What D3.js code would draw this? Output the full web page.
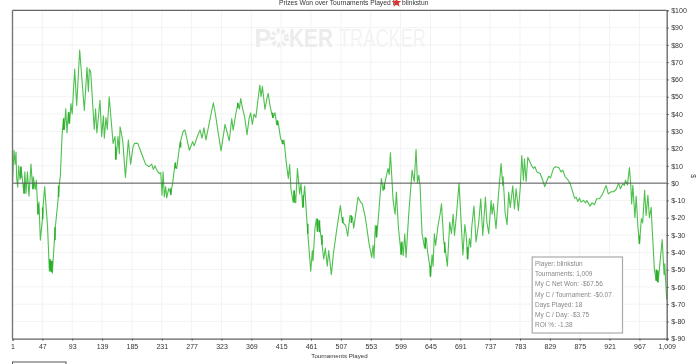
<!DOCTYPE html>
<html><head><meta charset="utf-8">
<script src="https://cdn.jsdelivr.net/npm/d3@7"></script>
<style>
html,body{margin:0;padding:0;background:#fff;overflow:hidden}
svg{display:block;filter:blur(0.3px)}
text{font-family:"Liberation Sans",Arial,sans-serif}
</style></head><body>
<svg id="c" width="700" height="364"></svg>
<script>
const tournaments=[1,3.3,5,6.4,7.4,9,10.5,12.6,14,16,18.7,20,21.8,24,26.4,29.5,32,33,36,37.7,40.3,41.8,43.9,47,48,50.6,52.6,55,57.8,58.8,60.3,62,62.4,65.5,67,71.6,73,74.7,77.3,79.3,81,83,85,87,89,91,93,96.8,99.9,104.5,109,111.7,115.8,117.9,119.4,121.5,127,129,131,134.3,135.8,138.4,141,142.5,145,147,150,153,156,159,160.5,163.6,165.6,166.7,168.7,171,175,179.5,183,186.7,188.8,194,200,206,211.4,215.5,218,220.6,224,227,229.4,231.4,233,235,237,238.6,241.7,244.7,247.8,251.4,254,259,264,266.8,273.5,278.6,281,285.8,290,293,296,299,302,306.4,310.5,313.6,318,322.3,328.5,332,335,338.8,341,345,348.5,350.6,352.6,355,358.8,362.4,365.5,368,370.6,373.2,376,382,384,386,390,393,395,397.3,400.4,402.4,405.5,408,410,414,418,419.4,423,426,428,430,433.3,435,437.4,440,443.5,445.5,448.2,451.2,455,456,460.5,463,464,467,469.3,470.8,473.4,475.4,478,480.5,483,486,488.2,490.3,492.3,495.4,500,506.2,509.3,514.4,517.5,521,524.7,526.8,533.4,537.5,540,544.7,550.4,554.5,556.6,558,560,561.7,563.8,569.4,572,579.7,581.5,583.3,586,587.4,590.5,592.5,595.6,599.7,601.3,603,605.4,607.4,611.5,616.7,618.5,620,622.8,625,627,629,632,635.7,638.8,640.3,644,645,647.5,649,651,653,656.7,659.8,662,665.5,668.5,671,674.7,677.3,680,682,685,689,695,698,700,702.5,705,707,708.6,712,715.3,719.4,722.5,725.6,729.7,731.8,734.8,738.4,740,742,746,749.7,753.8,756.4,757,760,763,765.6,768,771.8,774.4,777,780.5,783.6,785.7,788.3,789.8,792.4,795,797.5,801,804,806,809,814,818,821,824.7,827.3,830,834.5,837.6,842.7,846.3,849,852.5,856.6,860,863.3,867,869.5,872,874.6,877,880.7,884,886,891,894,897.7,901,905.4,909.5,915.7,919,923.4,927,931,935,937.7,941.3,943.8,945.5,948.5,951.6,953.7,955,956.8,960,962,964.5,967,970,972,975,977.3,980,982.4,985,986.5,990,992.7,995.3,995.8,999,1002,1005,1006,1009];
const prizes=[0,19,11,18,3,-2.3,10,2,9.5,3,-6,6.5,-6,6.5,-7.5,11,-3.3,3.7,-3.7,1.7,-18,-11,-33,-21,-14,-2,-13,-25,-51,-44,-51,-45,-52,-33,-25.5,-8,-1,4,27,37,31,43,29,41,34.5,46,40,66,45,77,55,42,67,53,66,64.5,31,43,29,42,48,27,39,26,38,31,50,36.5,23,27,13.7,27,17,32.6,29,24,3.3,25,11,21,23,23,17,11,9.5,11,8,10,7,5.6,6,-7,6.5,-8,-2,-8.5,-3,-6,0,11,8.5,23,30,30.7,19,24,21.6,27,30.7,26,32,25,30.7,39,46.5,40,29,18.7,34,29,24.5,37.4,30.7,40,46,43,49,44,38,28,37.4,40.7,34,40,38,56.7,50,56,42.6,49,52,46,40,38,40.7,34,36,26,22.6,25,11.4,2.7,10.8,-3.3,-11,-4.3,-11.4,8.5,-6.2,-0.4,-14,-1.7,-24,-29,-51,-39,-45,-26.4,-20.6,-28,-21.6,-28.4,-35.7,-44,-37.6,-48,-39,-46,-53,-41,-28.4,-13,-22.6,-24.5,-30.7,-18.7,-19.7,-26,-8,-11,-12,-20,-35,-43,-36,-43.4,-24.5,-31.3,-24.5,2.7,-4.3,8.5,5,17.5,-0.4,-10,-18,-5.2,-25.5,-41,-34,-42,-29.3,-43,-18,7.5,3.5,1,19.5,0,4.6,-1.5,-29,-37,-32,-39,-48,-54,-41.5,-48,-29.3,-36,-24.5,-18,-12,-34,-40,-48,-22.6,-29.3,-18,-30.3,-18.7,0,-41.5,-24,-30,-44,-32,-37,-25.5,-13.3,-34,-22.6,-9,-30.3,-8,-22.2,-29.3,-10,-18,-12,-26.4,-7,11.4,-1.3,3.7,-17,-24,-5.2,-14,-1.5,-15,-3.3,-16,-1.3,16,1.7,14,1,15,13,10,8.5,9.5,6.5,5.6,1.7,-2,1.7,4,3,8.5,9.5,9,6.5,7.5,3.7,2,0,-4,-8.7,-8.2,-10.6,-8.7,-11,-10,-11.4,-10,-13.3,-11.4,-12.5,-9,-9,-6.8,-1.4,-6.2,-5,-5,-3.7,0,-3.3,-0.4,-1.3,1.7,-1,9,-1.3,-12,-1.3,-20,-7.5,-24.5,-35,-20.6,-23,-4.2,-18.7,-7.1,-20,-14,-25.5,-49.6,-56.3,-50.5,-57.3,-44.8,-32.6,-53,-46.7,-67.3];
// stretches where the line zig-zags so tightly that it reads as a solid dark bar
const denseAt  =[14,19,33,40.3,58.5,60,61.5,47.5,66.5,72,80,88,160,245,252,260,348,402,409,417,435,449,456,471,474,478,510,523,562,574,600,637,645,667,702,967,993,995];
const denseHigh=[9.5,-0.5,-0.5,-12,-44,-45,-45,-14,-25.5,-1.5,37.5,41,21,-3,12,24,46.5,40.7,36.3,25,-4.3,-7,-23.5,-20.6,-21.6,-30,-19.7,-18.7,-24.5,-0.5,-34.2,-31.3,-47.7,-34.2,-37,-30.3,-50,-51];
const denseLow =[3,-6,-3.3,-18,-50,-51,-51.5,-21,-33,-8,30.7,34.5,13.7,-6.8,8.5,20.6,43.5,37.7,33.5,22.6,-11.4,-14,-29.3,-28,-28.4,-35.7,-23,-23,-31.3,-3.7,-41.5,-38,-54,-40.3,-44,-35.1,-56.5,-57.3];
const xTicks=[1,47,93,139,185,231,277,323,369,415,461,507,553,599,645,691,737,783,829,875,921,967,1009];
const yTicks=[100,90,80,70,60,50,40,30,20,10,0,-10,-20,-30,-40,-50,-60,-70,-80,-90];
const infoLines=["Player: blinkstun","Tournaments: 1,009","My C Net Won: -$67.56","My C / Tournament: -$0.07","Days Played: 18","My C / Day: -$3.75","ROI %: -1.38"];
const titleText="Prizes Won over Tournaments Played for";
const playerName="blinkstun";

const svg=d3.select("#c");
const x=d3.scaleLinear().domain([1,1009]).range([12.5,666.7]);
const y=d3.scaleLinear().domain([-90,100]).range([338.7,10.3]);
const fmtY=d=>d<0?"$-"+(-d):"$"+d;

// grid
svg.append("g").selectAll("line").data(xTicks).join("line")
  .attr("x1",d=>x(d)).attr("x2",d=>x(d)).attr("y1",y(100)).attr("y2",y(-90))
  .attr("stroke","#f3f3f3");
svg.append("g").selectAll("line").data(yTicks).join("line")
  .attr("x1",x(1)).attr("x2",x(1009)).attr("y1",d=>y(d)).attr("y2",d=>y(d))
  .attr("stroke","#f3f3f3");

// watermark
const wm=svg.append("g").attr("font-size",25);
wm.append("text").attr("x",254.5).attr("y",47).attr("font-weight","bold").attr("fill","#ececec").text("P");
wm.append("circle").attr("cx",279.5).attr("cy",38).attr("r",7).attr("fill","none").attr("stroke","#ececec").attr("stroke-width",5).attr("stroke-dasharray","3 2");
wm.append("text").attr("x",289).attr("y",47).attr("font-weight","bold").attr("fill","#ececec").attr("textLength",44).attr("lengthAdjust","spacingAndGlyphs").text("KER");
wm.append("text").attr("x",339).attr("y",47).attr("fill","#f3f3f3").attr("textLength",87).attr("lengthAdjust","spacingAndGlyphs").text("TRACKER");

// series
const line=d3.line().x((d,i)=>x(tournaments[i])).y(d=>y(d));
svg.append("path").datum(prizes).attr("d",line).attr("fill","none")
  .attr("stroke","#4dc04d").attr("stroke-width",1.1).attr("stroke-linejoin","round");
svg.append("g").selectAll("line").data(denseAt).join("line")
  .attr("x1",d=>x(d)).attr("x2",d=>x(d))
  .attr("y1",(d,i)=>y(denseHigh[i])).attr("y2",(d,i)=>y(denseLow[i]))
  .attr("stroke","#2bad2b").attr("stroke-width",1.5);

// zero line + frame
svg.append("line").attr("x1",x(1)).attr("x2",x(1009)).attr("y1",y(0)).attr("y2",y(0)).attr("stroke","#555").attr("stroke-width",1);
svg.append("line").attr("x1",x(1)).attr("x2",x(1009)).attr("y1",y(100)).attr("y2",y(100)).attr("stroke","#666").attr("stroke-width",1.2);
svg.append("line").attr("x1",x(1)).attr("x2",x(1)).attr("y1",y(100)).attr("y2",y(-90)).attr("stroke","#777").attr("stroke-width",1.4);

// axes
const ax=svg.append("g").attr("transform",`translate(0,${y(-90)})`)
  .call(d3.axisBottom(x).tickValues(xTicks).tickSizeOuter(0).tickSize(2).tickPadding(3).tickFormat(d=>d3.format(",")(d)));
const ay=svg.append("g").attr("transform",`translate(${x(1009)},0)`)
  .call(d3.axisRight(y).tickValues(yTicks).tickSizeOuter(0).tickSize(2).tickPadding(2.5).tickFormat(fmtY));
[ax,ay].forEach(g=>{
  g.selectAll("text").attr("font-size",7).attr("fill","#333").attr("font-family",'"Liberation Sans",Arial,sans-serif');
  g.selectAll("line").attr("stroke","#555");
  g.select(".domain").attr("stroke","#666").attr("stroke-width",1.3);
});

// axis titles
svg.append("text").attr("x",339.5).attr("y",358).attr("text-anchor","middle").attr("font-size",6.2).attr("fill","#333").text("Tournaments Played");
svg.append("text").attr("transform","translate(691,176) rotate(90)").attr("text-anchor","middle").attr("font-size",6.5).attr("fill","#333").text("$");

// chart title
svg.append("text").attr("x",279).attr("y",5).attr("font-size",6.7).attr("fill","#333").text(titleText);
svg.append("path").attr("d",d3.symbol(d3.symbolStar,30)()).attr("transform","translate(396.5,2.5)").attr("fill","#e03030");
svg.append("text").attr("x",402).attr("y",5).attr("font-size",6.7).attr("fill","#333").text(playerName);

// info box
const box=svg.append("g");
box.append("rect").attr("x",532.2).attr("y",257).attr("width",90.3).attr("height",76)
  .attr("fill","#fff").attr("stroke","#aaa").attr("stroke-width",1.2);
box.selectAll("text").data(infoLines).join("text")
  .attr("x",535).attr("y",(d,i)=>266+i*10.2).attr("font-size",6.5).attr("fill","#888").text(d=>d);

// bottom box
svg.append("rect").attr("x",12.5).attr("y",362).attr("width",53.5).attr("height",10).attr("fill","#fff").attr("stroke","#555").attr("stroke-width",1);
</script>
</body></html>
